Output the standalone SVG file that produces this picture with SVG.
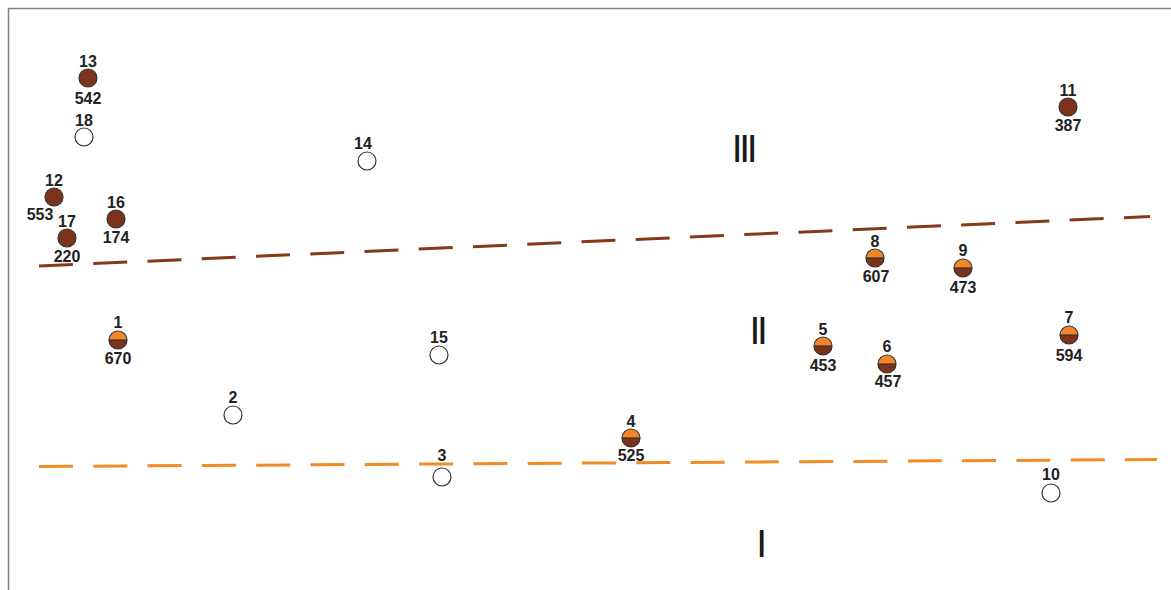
<svg xmlns="http://www.w3.org/2000/svg" xmlns:xlink="http://www.w3.org/1999/xlink" width="1171" height="590" viewBox="0 0 1171 590">
<style>
.t{font-family:"Liberation Sans",Arial,sans-serif;font-weight:bold;font-size:16px;fill:#222;text-anchor:middle}
.rn{font-family:"Liberation Sans",Arial,sans-serif;font-size:39px;fill:#1a1a1a;text-anchor:middle;letter-spacing:-3.3px}
.wh{fill:#fff;stroke:#333;stroke-width:1.2}
.br{fill:#7b3419;stroke:#333;stroke-width:1.2}
.bnd{fill:none;stroke-width:3;stroke-dasharray:34 20.3}
</style>
<defs>
<g id="half">
<path d="M-9 0A9 9 0 0 1 9 0Z" fill="#f4862a"/>
<path d="M-9 0A9 9 0 0 0 9 0Z" fill="#7b3419"/>
<line x1="-9" y1="0" x2="9" y2="0" stroke="#333" stroke-width="1.2"/>
<circle r="9" fill="none" stroke="#333" stroke-width="1.2"/>
</g>
</defs>
<rect width="1171" height="590" fill="#fff"/>
<path d="M8.5 590V8.5H1171" fill="none" stroke="#808080" stroke-width="1.5"/>
<g id="connectors">
<line class="bnd" x1="39" y1="266" x2="1150" y2="216.5" stroke="#86391a"/>
<line class="bnd" x1="39" y1="466.5" x2="1157" y2="459.5" stroke="#f28a25"/>
</g>
<g id="zones">
<text class="rn" x="743" y="162">III</text>
<text class="rn" x="757" y="344">II</text>
<text class="rn" x="760" y="557">I</text>
</g>
<g id="n13"><circle class="br" cx="88" cy="78" r="9"/><text class="t" x="88" y="67">13</text><text class="t" x="88" y="104">542</text></g>
<g id="n18"><circle class="wh" cx="84" cy="137" r="9"/><text class="t" x="84" y="126">18</text></g>
<g id="n12"><circle class="br" cx="54" cy="197" r="9"/><text class="t" x="54" y="186">12</text><text class="t" x="40" y="220">553</text></g>
<g id="n17"><circle class="br" cx="67" cy="238" r="9"/><text class="t" x="67" y="227">17</text><text class="t" x="67" y="262">220</text></g>
<g id="n16"><circle class="br" cx="116" cy="219" r="9"/><text class="t" x="116" y="208">16</text><text class="t" x="116" y="243">174</text></g>
<g id="n14"><circle class="wh" cx="367" cy="161" r="9"/><text class="t" x="363" y="149">14</text></g>
<g id="n11"><circle class="br" cx="1068" cy="107" r="9"/><text class="t" x="1068" y="96">11</text><text class="t" x="1068" y="131">387</text></g>
<g id="n1"><use xlink:href="#half" x="118" y="340"/><text class="t" x="118" y="328">1</text><text class="t" x="118" y="364">670</text></g>
<g id="n2"><circle class="wh" cx="233" cy="415" r="9"/><text class="t" x="233" y="403">2</text></g>
<g id="n15"><circle class="wh" cx="439" cy="355" r="9"/><text class="t" x="439" y="343">15</text></g>
<g id="n3"><circle class="wh" cx="442" cy="477" r="9"/><text class="t" x="442" y="461">3</text></g>
<g id="n4"><use xlink:href="#half" x="631" y="438"/><text class="t" x="631" y="427">4</text><text class="t" x="631" y="461">525</text></g>
<g id="n8"><use xlink:href="#half" x="875" y="258"/><text class="t" x="875" y="247">8</text><text class="t" x="876" y="282">607</text></g>
<g id="n9"><use xlink:href="#half" x="963" y="268"/><text class="t" x="963" y="256">9</text><text class="t" x="963" y="293">473</text></g>
<g id="n5"><use xlink:href="#half" x="823" y="346"/><text class="t" x="823" y="335">5</text><text class="t" x="823" y="371">453</text></g>
<g id="n6"><use xlink:href="#half" x="887" y="364"/><text class="t" x="887" y="352">6</text><text class="t" x="888" y="387">457</text></g>
<g id="n7"><use xlink:href="#half" x="1069" y="335"/><text class="t" x="1069" y="323">7</text><text class="t" x="1069" y="361">594</text></g>
<g id="n10"><circle class="wh" cx="1051" cy="493" r="9"/><text class="t" x="1051" y="480">10</text></g>
</svg>
